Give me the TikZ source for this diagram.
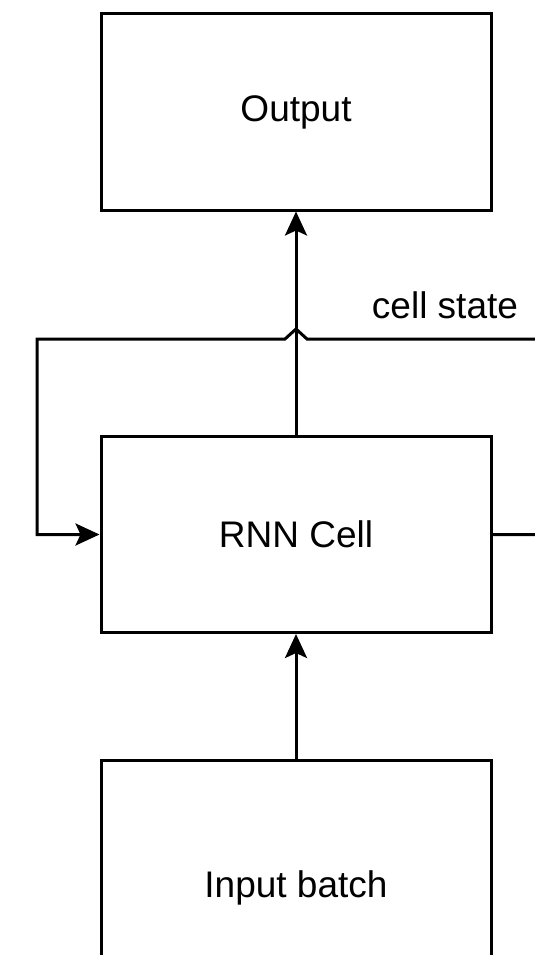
\documentclass[tikz,border=0pt]{standalone}
\usepackage{fontspec}
\setmainfont{Liberation Sans}
\usetikzlibrary{positioning,arrows.meta}

\begin{document}
\begin{tikzpicture}[
  x=1pt, y=-1pt,
  font=\fontsize{37}{42}\selectfont,
  blk/.style={rectangle, draw=black, line width=3pt, minimum width=390pt,
              minimum height=196pt, inner sep=0pt, fill=white, align=center},
  arr/.style={-{Stealth[length=24pt,width=22pt,inset=5pt]}, draw=black, line width=3pt}
]
\useasboundingbox (0,0) rectangle (535,955);
\clip (0,0) rectangle (535,955);
\fill[white] (0,0) rectangle (535,955);
\node[blk] (out) at (296,112)   {Output};
\node[blk] (rnn) at (296,534.5) {RNN Cell};
\node[blk, minimum height=210pt] (inp) at (296,865) {};
\node (inptxt) at (296,888) {Input batch};
\node (lbl) at (445,305) {cell state};
\coordinate (hopr) at (307,339);
\coordinate (hopt) at (296,329);
\coordinate (hopl) at (285,339);

\draw[arr] (inp.north) -- (rnn.south);
\draw[arr] (rnn.north) -- (out.south);
\draw[arr] (rnn.east) -- (560,534.5) -- (560,339) -- (hopr)
  -- (hopt) -- (hopl) -- (37,339) |- (rnn.west);
\end{tikzpicture}
\end{document}
